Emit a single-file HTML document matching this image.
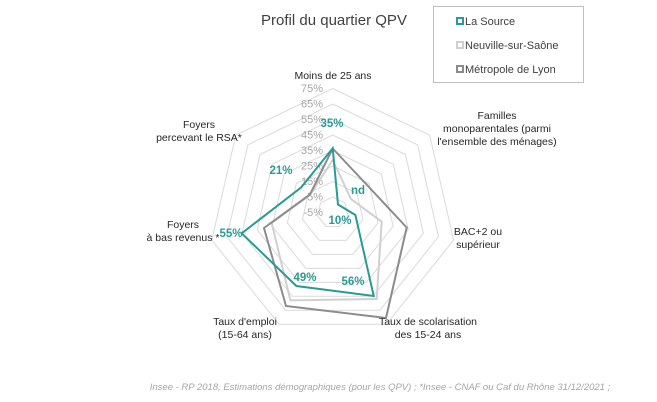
<!DOCTYPE html>
<html><head><meta charset="utf-8"><style>
html,body{margin:0;padding:0;background:#fff;}
svg{display:block;font-family:"Liberation Sans",Arial,sans-serif;}
</style></head><body>
<svg width="657" height="402" viewBox="0 0 657 402" xmlns="http://www.w3.org/2000/svg">
<rect width="657" height="402" fill="#fff"/>
<text x="334" y="25" font-size="15" text-anchor="middle" fill="#404040">Profil du quartier QPV</text>
<!-- legend -->
<rect x="433.5" y="6.5" width="150" height="76" fill="#fff" stroke="#bfbfbf"/>
<rect x="457" y="18" width="6" height="6" fill="#fff" stroke="#2a9a96" stroke-width="2"/>
<text x="465" y="25" font-size="11" fill="#404040">La Source</text>
<rect x="457" y="42" width="6" height="6" fill="#fff" stroke="#d0d0d0" stroke-width="2"/>
<text x="465" y="49" font-size="11" fill="#404040">Neuville-sur-Saône</text>
<rect x="457" y="66" width="6" height="6" fill="#fff" stroke="#8c8c8c" stroke-width="2"/>
<text x="465" y="73" font-size="11" fill="#404040">Métropole de Lyon</text>
<!-- grid -->
<g fill="none" stroke="#dadada" stroke-width="1">
<polygon vector-effect="non-scaling-stroke" transform="translate(332.7,212.5) scale(15.5)" points="0,-1 0.7818,-0.6235 0.9749,0.2225 0.4339,0.901 -0.4339,0.901 -0.9749,0.2225 -0.7818,-0.6235"/>
<polygon vector-effect="non-scaling-stroke" transform="translate(332.7,212.5) scale(31)" points="0,-1 0.7818,-0.6235 0.9749,0.2225 0.4339,0.901 -0.4339,0.901 -0.9749,0.2225 -0.7818,-0.6235"/>
<polygon vector-effect="non-scaling-stroke" transform="translate(332.7,212.5) scale(46.5)" points="0,-1 0.7818,-0.6235 0.9749,0.2225 0.4339,0.901 -0.4339,0.901 -0.9749,0.2225 -0.7818,-0.6235"/>
<polygon vector-effect="non-scaling-stroke" transform="translate(332.7,212.5) scale(62)" points="0,-1 0.7818,-0.6235 0.9749,0.2225 0.4339,0.901 -0.4339,0.901 -0.9749,0.2225 -0.7818,-0.6235"/>
<polygon vector-effect="non-scaling-stroke" transform="translate(332.7,212.5) scale(77.5)" points="0,-1 0.7818,-0.6235 0.9749,0.2225 0.4339,0.901 -0.4339,0.901 -0.9749,0.2225 -0.7818,-0.6235"/>
<polygon vector-effect="non-scaling-stroke" transform="translate(332.7,212.5) scale(93)" points="0,-1 0.7818,-0.6235 0.9749,0.2225 0.4339,0.901 -0.4339,0.901 -0.9749,0.2225 -0.7818,-0.6235"/>
<polygon vector-effect="non-scaling-stroke" transform="translate(332.7,212.5) scale(108.5)" points="0,-1 0.7818,-0.6235 0.9749,0.2225 0.4339,0.901 -0.4339,0.901 -0.9749,0.2225 -0.7818,-0.6235"/>
<polygon vector-effect="non-scaling-stroke" transform="translate(332.7,212.5) scale(124)" points="0,-1 0.7818,-0.6235 0.9749,0.2225 0.4339,0.901 -0.4339,0.901 -0.9749,0.2225 -0.7818,-0.6235"/>
</g>
<!-- tick labels -->
<g font-size="11" fill="#a6a6a6" text-anchor="end">
<text x="323" y="216">-5%</text>
<text x="323" y="200.5">5%</text>
<text x="323" y="185">15%</text>
<text x="323" y="169.5">25%</text>
<text x="323" y="154">35%</text>
<text x="323" y="138.5">45%</text>
<text x="323" y="123">55%</text>
<text x="323" y="107.5">65%</text>
<text x="323" y="92">75%</text>
</g>
<!-- series -->
<polygon fill="none" stroke="#d0d0d0" stroke-width="2" points="332.7,160 351,199 381.7,221.7 376.7,299 290.4,300.4 271.7,223 310,195"/>
<polygon fill="none" stroke="#8c8c8c" stroke-width="2" points="332.7,148.5 367,185 406.7,227.5 386,318 286,306 264,228 310,194.4"/>
<polygon fill="none" stroke="#2a9a96" stroke-width="2" points="332.7,148.3 338,204.5 355.4,215 373.7,296 296.4,286 241.7,233.3 301.2,187.4"/>
<!-- value labels -->
<g font-size="11.5" font-weight="bold" fill="#2a9a96" text-anchor="middle">
<text x="332" y="127">35%</text>
<text x="281" y="174">21%</text>
<text x="358" y="194">nd</text>
<text x="340" y="224">10%</text>
<text x="231" y="237">55%</text>
<text x="305" y="281">49%</text>
<text x="353" y="285">56%</text>
</g>
<!-- axis labels -->
<g font-size="10.5" fill="#262626" text-anchor="middle">
<text x="333" y="79">Moins de 25 ans</text>
<text x="497" y="119">Familles</text>
<text x="497" y="132">monoparentales (parmi</text>
<text x="497" y="145">l'ensemble des ménages)</text>
<text x="478" y="235">BAC+2 ou</text>
<text x="478" y="248">supérieur</text>
<text x="428" y="325">Taux de scolarisation</text>
<text x="428" y="338">des 15-24 ans</text>
<text x="245" y="325">Taux d'emploi</text>
<text x="245" y="338">(15-64 ans)</text>
<text x="183" y="228">Foyers</text>
<text x="183" y="241">à bas revenus *</text>
<text x="199" y="128">Foyers</text>
<text x="199" y="141">percevant le RSA*</text>
</g>
<text x="380" y="390" font-size="9.5" font-style="italic" fill="#a6a6a6" text-anchor="middle">Insee - RP 2018, Estimations démographiques (pour les QPV)  ; *Insee - CNAF ou Caf du Rhône 31/12/2021 ;</text>
</svg>
</body></html>
